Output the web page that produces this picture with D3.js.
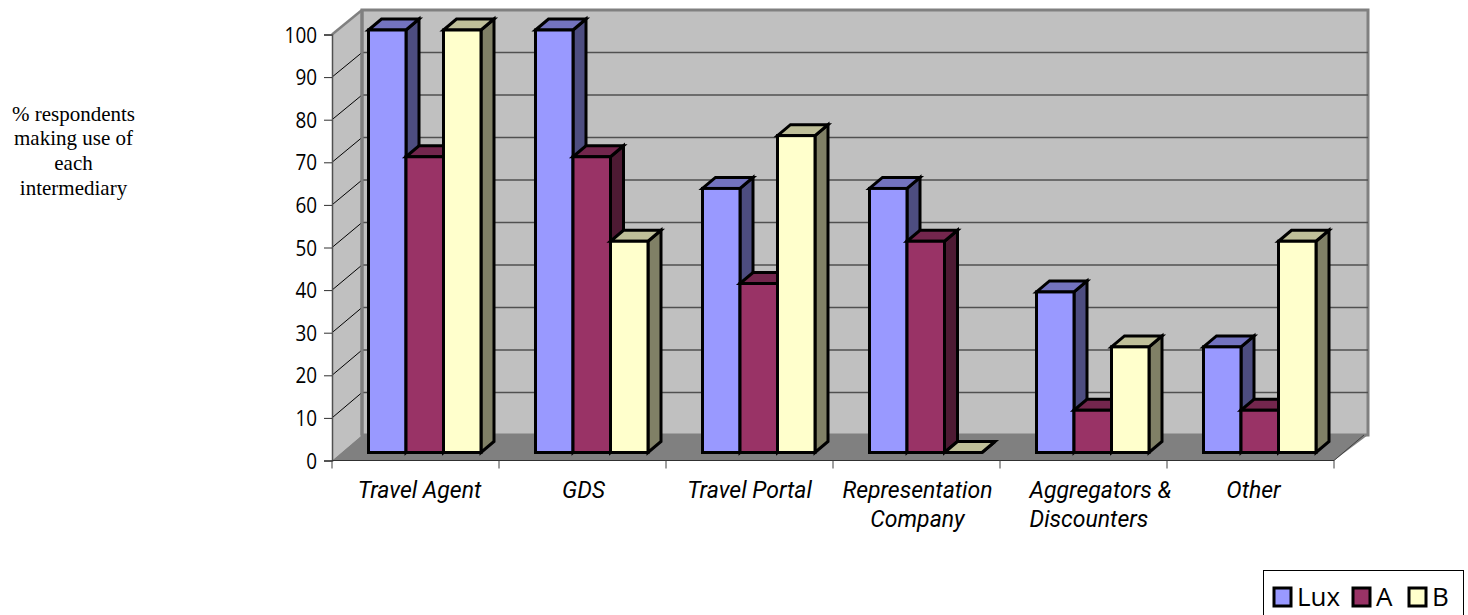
<!DOCTYPE html>
<html>
<head>
<meta charset="utf-8">
<script src="https://cdn.jsdelivr.net/npm/d3@7"></script>
<style>
  html, body { margin: 0; padding: 0; background: #fff; overflow: hidden; }
  svg { display: block; }
  text { fill: #000; }
  .tick-label { font-family: "Open Sans", sans-serif; font-size: 21px; }
  .legend-label { font-family: "Open Sans", sans-serif; font-size: 26px; }
  .cat-label { font-family: Roboto, sans-serif; font-size: 23px; font-style: italic; }
  .side-label { font-family: "Liberation Serif", serif; font-size: 21px; }
</style>
</head>
<body>
<div id="chart"></div>
<script>
var categories = ["Travel Agent", "GDS", "Travel Portal", "Representation Company", "Aggregators & Discounters", "Other"];
var seriesNames = ["Lux", "A", "B"];
var luxValues = [100, 100, 62.5, 62.5, 38, 25];
var aValues = [70, 70, 40, 50, 10, 10];
var bValues = [100, 50, 75, 0, 25, 50];
var yTicks = [0, 10, 20, 30, 40, 50, 60, 70, 80, 90, 100];
var sideLines = ["% respondents", "making use of", "each", "intermediary"];

var seriesValues = [luxValues, aValues, bValues];
var frontColors = ["#9999ff", "#993366", "#ffffcc"];
var topColors = ["#7373bf", "#73264d", "#bfbf99"];
var sideColors = ["#4d4d80", "#4d1a33", "#808066"];

var width = 1468, height = 615;

// front plane of the 3d box, the back wall is shifted by depth
var left = 332, right = 1334, depthX = 30, depthY = 25;
var barDepthX = 13, barDepthY = 11;

var svg = d3.select("#chart").append("svg")
    .attr("width", width)
    .attr("height", height);

var x = d3.scaleBand().domain(categories).range([left, right]);
var series = d3.scaleBand().domain(seriesNames).range([36.5, 149]);
var yAxisScale = d3.scaleLinear().domain([0, 100]).range([460.5, 34.5]);
var yBack = d3.scaleLinear().domain([0, 100]).range([435, 10]);
var yBar = d3.scaleLinear().domain([0, 100]).range([452.5, 30]);

function poly(points) {
  return points.map(function(p) { return p.join(","); }).join(" ");
}

var y0 = yAxisScale(0), y100 = yAxisScale(100), by0 = yBack(0), by100 = yBack(100);

// left wall
svg.append("polygon")
    .attr("points", poly([[left, y0], [left, y100], [left + depthX, by100], [left + depthX, by0]]))
    .attr("fill", "#c0c0c0");

// back wall
svg.append("rect")
    .attr("x", left + depthX)
    .attr("y", by100)
    .attr("width", right - left + 4)
    .attr("height", by0 - by100)
    .attr("fill", "#c0c0c0")
    .attr("stroke", "#808080")
    .attr("stroke-width", 3);

// floor
svg.append("polygon")
    .attr("points", poly([[left, y0], [left + depthX, by0], [right + depthX + 4, by0], [right, y0]]))
    .attr("fill", "#808080");

// grid lines, wall and back
var grid = yTicks.filter(function(d) { return d > 0; });

svg.selectAll(".grid-back")
    .data(grid.filter(function(d) { return d < 100; }))
    .enter().append("line")
    .attr("class", "grid-back")
    .attr("x1", left + depthX)
    .attr("x2", right + depthX + 4)
    .attr("y1", function(d) { return yBack(d); })
    .attr("y2", function(d) { return yBack(d); })
    .attr("stroke", "#505050")
    .attr("stroke-width", 1.5);

svg.selectAll(".grid-left")
    .data(grid.filter(function(d) { return d < 100; }))
    .enter().append("line")
    .attr("class", "grid-left")
    .attr("x1", left)
    .attr("x2", left + depthX)
    .attr("y1", function(d) { return yAxisScale(d); })
    .attr("y2", function(d) { return yBack(d); })
    .attr("stroke", "#000")
    .attr("stroke-width", 1);

svg.append("line")
    .attr("x1", left + depthX).attr("x2", left + depthX)
    .attr("y1", by100).attr("y2", by0)
    .attr("stroke", "#808080").attr("stroke-width", 3);

svg.append("line")
    .attr("x1", left).attr("x2", left + depthX)
    .attr("y1", y100).attr("y2", by100)
    .attr("stroke", "#808080")
    .attr("stroke-width", 2.5);

svg.append("line")
    .attr("x1", right).attr("x2", right + depthX)
    .attr("y1", y0).attr("y2", by0)
    .attr("stroke", "#404040");

// axes
var yAxis = d3.axisLeft(yAxisScale).tickValues(yTicks).tickSize(8);
var yG = svg.append("g").attr("transform", "translate(" + left + ",0)").call(yAxis);
yG.select(".domain").attr("stroke", "#505050").attr("stroke-width", 1.5);
yG.selectAll(".tick line").attr("stroke", "#303030");
yG.selectAll(".tick text")
    .attr("class", "tick-label")
    .attr("font-family", null).attr("font-size", null)
    .attr("x", 0)
    .attr("dy", "0.36em")
    .attr("transform", "translate(-15,0) scale(0.9,1)");

svg.append("line")
    .attr("x1", left).attr("x2", right)
    .attr("y1", y0).attr("y2", y0)
    .attr("stroke", "#303030").attr("stroke-width", 1);

svg.selectAll(".x-tick")
    .data(categories.concat(["end"]))
    .enter().append("line")
    .attr("class", "x-tick")
    .attr("x1", function(d) { return d === "end" ? right : x(d); })
    .attr("x2", function(d) { return d === "end" ? right : x(d); })
    .attr("y1", y0)
    .attr("y2", y0 + 8)
    .attr("stroke", "#404040");

// bars, back to front in each group
categories.forEach(function(cat, c) {
  seriesNames.forEach(function(name, s) {
    var v = seriesValues[s][c];
    var bx = x(cat) + series(name);
    var bw = series.bandwidth();
    var top = yBar(v), base = yBar(0);
    var g = svg.append("g").attr("class", "bar");

    g.append("polygon")
        .attr("points", poly([[bx + bw, top], [bx + bw + barDepthX, top - barDepthY], [bx + bw + barDepthX, base - barDepthY], [bx + bw, base]]))
        .attr("fill", sideColors[s]);
    g.append("polygon")
        .attr("points", poly([[bx, top], [bx + barDepthX, top - barDepthY], [bx + bw + barDepthX, top - barDepthY], [bx + bw, top]]))
        .attr("fill", topColors[s]);
    g.append("rect")
        .attr("x", bx)
        .attr("y", top)
        .attr("width", bw)
        .attr("height", base - top)
        .attr("fill", frontColors[s]);

    g.selectAll("polygon, rect")
        .attr("stroke", "#000")
        .attr("stroke-width", 3)
        .attr("stroke-linejoin", "miter");
  });
});

// category labels, most centred under the bars
var labelLines = [["Travel Agent"], ["GDS"], ["Travel Portal"], ["Representation", "Company"], ["Aggregators &", "Discounters"], ["Other"]];
var labelShift = [4, 1, 0, 1, -54, 3];

labelLines.forEach(function(lines, i) {
  var cx = x(categories[i]) + x.bandwidth() / 2 + labelShift[i];
  lines.forEach(function(line, k) {
    svg.append("text")
        .attr("class", "cat-label")
        .attr("x", cx)
        .attr("y", 498 + k * 29)
        .attr("text-anchor", i === 4 ? "start" : "middle")
        .text(line);
  });
});

// text on the left
svg.selectAll(".side-label")
    .data(sideLines)
    .enter().append("text")
    .attr("class", "side-label")
    .attr("x", 73.5)
    .attr("y", function(d, i) { return 120.5 + i * 24.8; })
    .attr("text-anchor", "middle")
    .text(function(d) { return d; });

// legend
var legend = svg.append("g");
legend.append("rect")
    .attr("x", 1263.5).attr("y", 570.5)
    .attr("width", 200).attr("height", 60)
    .attr("fill", "#fff").attr("stroke", "#000").attr("stroke-width", 1);

var legendX = d3.scaleOrdinal().domain(seriesNames).range([1274, 1353, 1409]);

seriesNames.forEach(function(name, s) {
  legend.append("rect")
      .attr("x", legendX(name)).attr("y", 588)
      .attr("width", 17).attr("height", 18)
      .attr("fill", frontColors[s])
      .attr("stroke", "#000").attr("stroke-width", 3);
  legend.append("text")
      .attr("class", "legend-label")
      .attr("x", legendX(name) + 23)
      .attr("y", 606)
      .text(name);
});
</script>
</body>
</html>
